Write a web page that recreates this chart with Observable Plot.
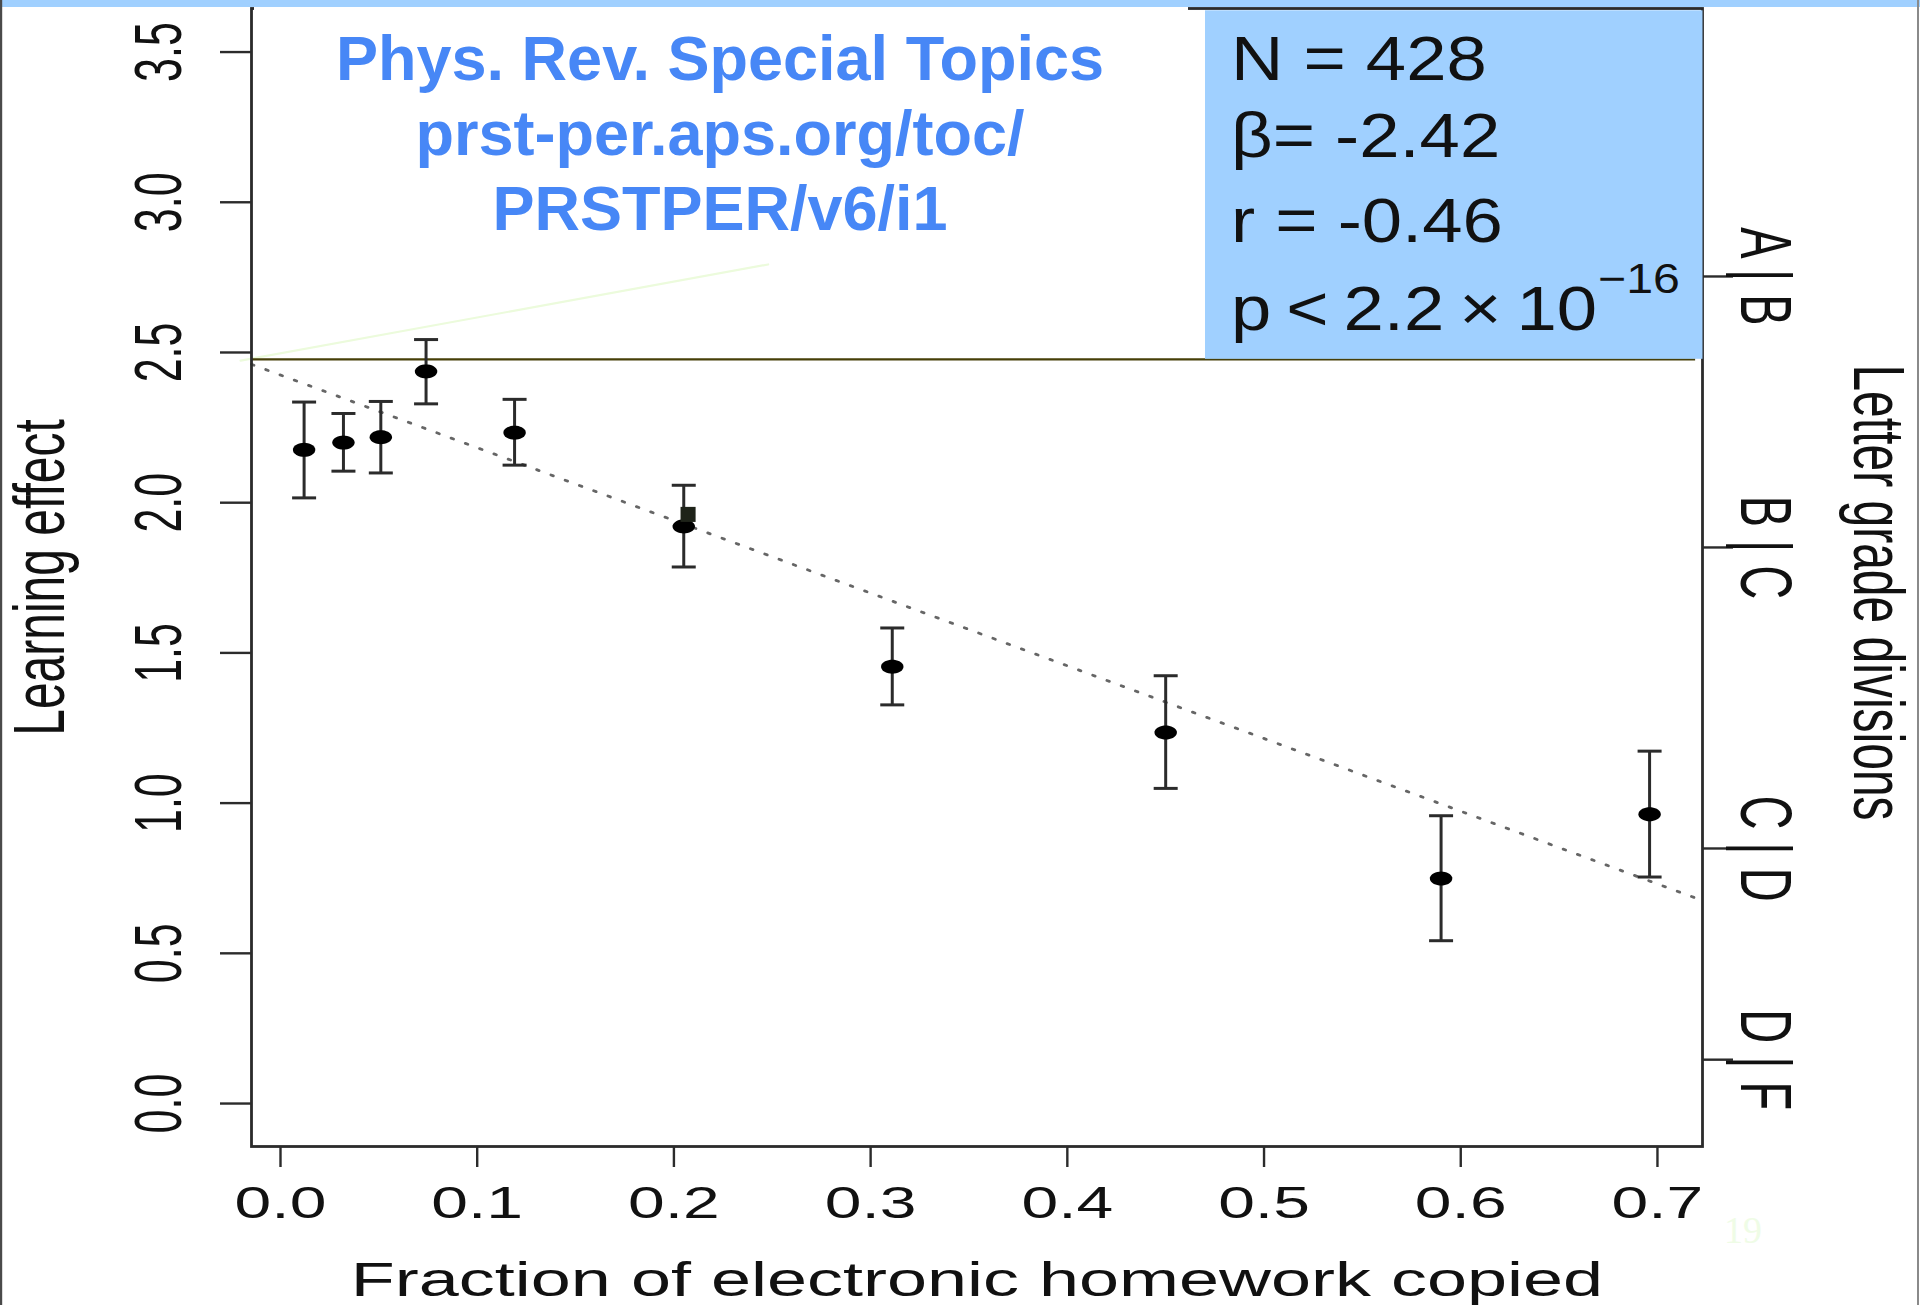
<!DOCTYPE html>
<html>
<head>
<meta charset="utf-8">
<script src="https://cdn.jsdelivr.net/npm/d3@7"></script>
<script src="https://cdn.jsdelivr.net/npm/@observablehq/plot@0.6"></script>
<style>
  html, body { margin: 0; padding: 0; background: #fff; }
  #chart { position: relative; width: 1920px; height: 1305px; overflow: hidden; }
  #chart svg { display: block; }
</style>
</head>
<body>
<div id="chart"></div>
<script>
// Binned mean learning effect against the fraction of electronic homework copied
const copiedFraction = [0.012, 0.032, 0.051, 0.074, 0.119, 0.205, 0.311, 0.450, 0.590, 0.696];
const learningEffect = [2.176, 2.200, 2.218, 2.437, 2.233, 1.921, 1.454, 1.235, 0.749, 0.963];
const errorUpper     = [2.335, 2.297, 2.337, 2.543, 2.344, 2.058, 1.583, 1.424, 0.958, 1.173];
const errorLower     = [2.016, 2.105, 2.099, 2.329, 2.125, 1.786, 1.327, 1.049, 0.542, 0.754];

// Least-squares fit reported in the stats box
const fitIntercept = 2.425;
const fitSlope = -2.42;
const statLines = ["N = 428", "\u03b2= -2.42", "r = -0.46", "p < 2.2 \u00d7 10"];
const pExponent = "\u221216";

// Axis ticks
const xTicks = [0, 0.1, 0.2, 0.3, 0.4, 0.5, 0.6, 0.7];
const yTicks = [0, 0.5, 1, 1.5, 2, 2.5, 3, 3.5];
const gradeCuts = [2.753, 1.851, 0.849, 0.146];
const gradeLabels = ["A | B", "B | C", "C | D", "D | F"];

// Reference level and stray marks on the slide
const referenceLevel = 2.477;
const referenceEnd = 0.7194;
const guideX = [-0.0203, 0.2479];
const guideY = [2.473, 2.793];
const squareMarkX = [0.2072];
const squareMarkY = [1.961];

const titleLines = ["Phys. Rev. Special Topics", "prst-per.aps.org/toc/", "PRSTPER/v6/i1"];
const slideNumber = "19";

const xDomain = [-0.01474, 0.7229];
const yDomain = [-0.143, 3.645];

const points = copiedFraction.map((x, i) => ({x, y: learningEffect[i], hi: errorUpper[i], lo: errorLower[i]}));
const fitLine = xDomain.map(x => ({x, y: fitIntercept + fitSlope * x}));
const guide = guideX.map((x, i) => ({x, y: guideY[i]}));
const squareMark = squareMarkX.map((x, i) => ({x, y: squareMarkY[i]}));

// Wide, flattened dot (the figure is stretched horizontally)
const ellipseSymbol = {
  draw(ctx, size) {
    const r = Math.sqrt(size / Math.PI), rx = r * 1.6, ry = r, n = 36;
    for (let k = 0; k < n; ++k) {
      const a = 2 * Math.PI * k / n;
      const px = rx * Math.cos(a), py = ry * Math.sin(a);
      if (k) ctx.lineTo(px, py); else ctx.moveTo(px, py);
    }
    ctx.closePath();
  }
};
// Horizontal error-bar cap
const capSymbol = {
  draw(ctx, size) {
    const r = Math.sqrt(size / Math.PI);
    ctx.moveTo(-r, 0);
    ctx.lineTo(r, 0);
  }
};

const ink = "#2b2b2b";

const svg = Plot.plot({
  width: 1920,
  height: 1305,
  marginLeft: 251,
  marginRight: 218,
  marginTop: 8,
  marginBottom: 159,
  x: {domain: xDomain},
  y: {domain: yDomain},
  style: {
    background: "transparent",
    fontFamily: "'Liberation Sans', Arial, Helvetica, sans-serif",
    color: "#111",
    overflow: "visible"
  },
  marks: [
    // faint guide stroke
    Plot.line(guide, {x: "x", y: "y", stroke: "#ecfbdc", strokeWidth: 2.2}),
    // reference level
    Plot.ruleY([referenceLevel], {x1: xDomain[0], x2: referenceEnd, stroke: "#463f08", strokeWidth: 2.2}),
    // regression fit
    Plot.line(fitLine, {x: "x", y: "y", stroke: "#666", strokeWidth: 2.8, strokeDasharray: "2.6 12.6"}),
    Plot.frame({stroke: ink, strokeWidth: 2.8}),
    Plot.axisX(xTicks, {
      anchor: "bottom", tickSize: 21, tickPadding: 19, fontSize: 44,
      tickFormat: d3.format(".1f"), label: null, stroke: ink, strokeWidth: 2.4
    }),
    Plot.axisY(yTicks, {
      anchor: "left", tickSize: 31, tickPadding: 40, tickRotate: -90,
      textAnchor: "middle", lineAnchor: "bottom", fontSize: 43,
      tickFormat: d3.format(".1f"), label: null, stroke: ink, strokeWidth: 2.4
    }),
    Plot.axisY(gradeCuts, {
      anchor: "right", tickSize: 30, tickPadding: 8, tickRotate: 90,
      textAnchor: "middle", lineAnchor: "bottom", fontSize: 47,
      tickFormat: d => gradeLabels[gradeCuts.indexOf(d)], label: null, stroke: ink, strokeWidth: 2.4
    }),
    // axis titles
    Plot.text(["Learning effect"], {text: d => d, frameAnchor: "left", dx: -211, rotate: -90,
      textAnchor: "middle", lineAnchor: "middle", fontSize: 48}),
    Plot.text(["Letter grade divisions"], {text: d => d, frameAnchor: "right", dx: 175, dy: 15, rotate: 90,
      textAnchor: "middle", lineAnchor: "middle", fontSize: 48}),
    Plot.text(["Fraction of electronic homework copied"], {text: d => d, frameAnchor: "bottom", dy: 134,
      textAnchor: "middle", lineAnchor: "middle", fontSize: 48}),
    // error bars
    Plot.ruleX(points, {x: "x", y1: "lo", y2: "hi", stroke: ink, strokeWidth: 3}),
    Plot.dot(points, {x: "x", y: "hi", symbol: capSymbol, r: 12, stroke: ink, strokeWidth: 3, fill: "none"}),
    Plot.dot(points, {x: "x", y: "lo", symbol: capSymbol, r: 12, stroke: ink, strokeWidth: 3, fill: "none"}),
    // means
    Plot.dot(points, {x: "x", y: "y", symbol: ellipseSymbol, r: 7, fill: "#000", stroke: "none"}),
    Plot.dot(squareMark, {x: "x", y: "y", symbol: "square", r: 8.5, fill: "#1e2319", stroke: "none"})
  ]
});

document.getElementById("chart").append(svg);

// Horizontal stretch of the chart lettering
function stretchText(selector, k) {
  svg.querySelectorAll(selector).forEach(t => {
    const tr = t.getAttribute("transform") || "";
    const m = tr.match(/^\s*translate\([^)]*\)/);
    if (m) t.setAttribute("transform", m[0] + ` scale(${k},1)` + tr.slice(m[0].length));
    else {
      const x = +t.getAttribute("x") || 0, y = +t.getAttribute("y") || 0;
      t.setAttribute("transform", `translate(${x},${y}) scale(${k},1) translate(${-x},${-y}) ` + tr);
    }
  });
}
stretchText('g[aria-label="x-axis tick label"] text', 1.5);
stretchText('g[aria-label="y-axis tick label"] text', 1.55);
stretchText('g[aria-label="text"] text', 1.5);

// Slide furniture drawn over the chart
const s = d3.select(svg);
s.append("rect").attr("x", 254).attr("y", 6.5).attr("width", 934).attr("height", 4.5).attr("fill", "#fff");
s.append("rect").attr("x", 0).attr("y", 0).attr("width", 1920).attr("height", 7).attr("fill", "#a0d0ff");
s.append("rect").attr("x", 0).attr("y", 0).attr("width", 2.2).attr("height", 1305).attr("fill", "#4a4a4a");
s.append("rect").attr("x", 1917).attr("y", 0).attr("width", 2).attr("height", 1305).attr("fill", "#8a8a8a");

// Journal reference
const title = s.append("g")
  .attr("font-family", "'Liberation Sans', Arial, Helvetica, sans-serif")
  .attr("font-weight", "bold")
  .attr("font-size", 63)
  .attr("fill", "#4787f6")
  .attr("text-anchor", "middle");
titleLines.forEach((line, i) => {
  title.append("text").attr("x", 720).attr("y", 80 + 75 * i).text(line);
});

// Stats box
s.append("rect").attr("x", 1205).attr("y", 10.3).attr("width", 497.5).attr("height", 348.5).attr("fill", "#a0d0ff");
const stats = s.append("g")
  .attr("font-family", "'Liberation Sans', Arial, Helvetica, sans-serif")
  .attr("font-size", 63)
  .attr("fill", "#111")
  .attr("text-anchor", "start");
const statBaselines = [80, 157, 242, 330];
statLines.forEach((line, i) => {
  stats.append("text")
    .attr("transform", `translate(1231,${statBaselines[i]}) scale(1.15,1)`)
    .style("word-spacing", i === 3 ? "-4.5px" : null)
    .text(line);
});
stats.append("text")
  .attr("transform", "translate(1598,293) scale(1.15,1)")
  .attr("font-size", 42)
  .text(pExponent);

// Slide number
s.append("text")
  .attr("x", 1724).attr("y", 1243)
  .attr("text-anchor", "start")
  .attr("font-family", "'Liberation Serif', 'Times New Roman', serif")
  .attr("font-size", 38)
  .attr("fill", "#effce6")
  .text(slideNumber);
</script>
</body>
</html>
